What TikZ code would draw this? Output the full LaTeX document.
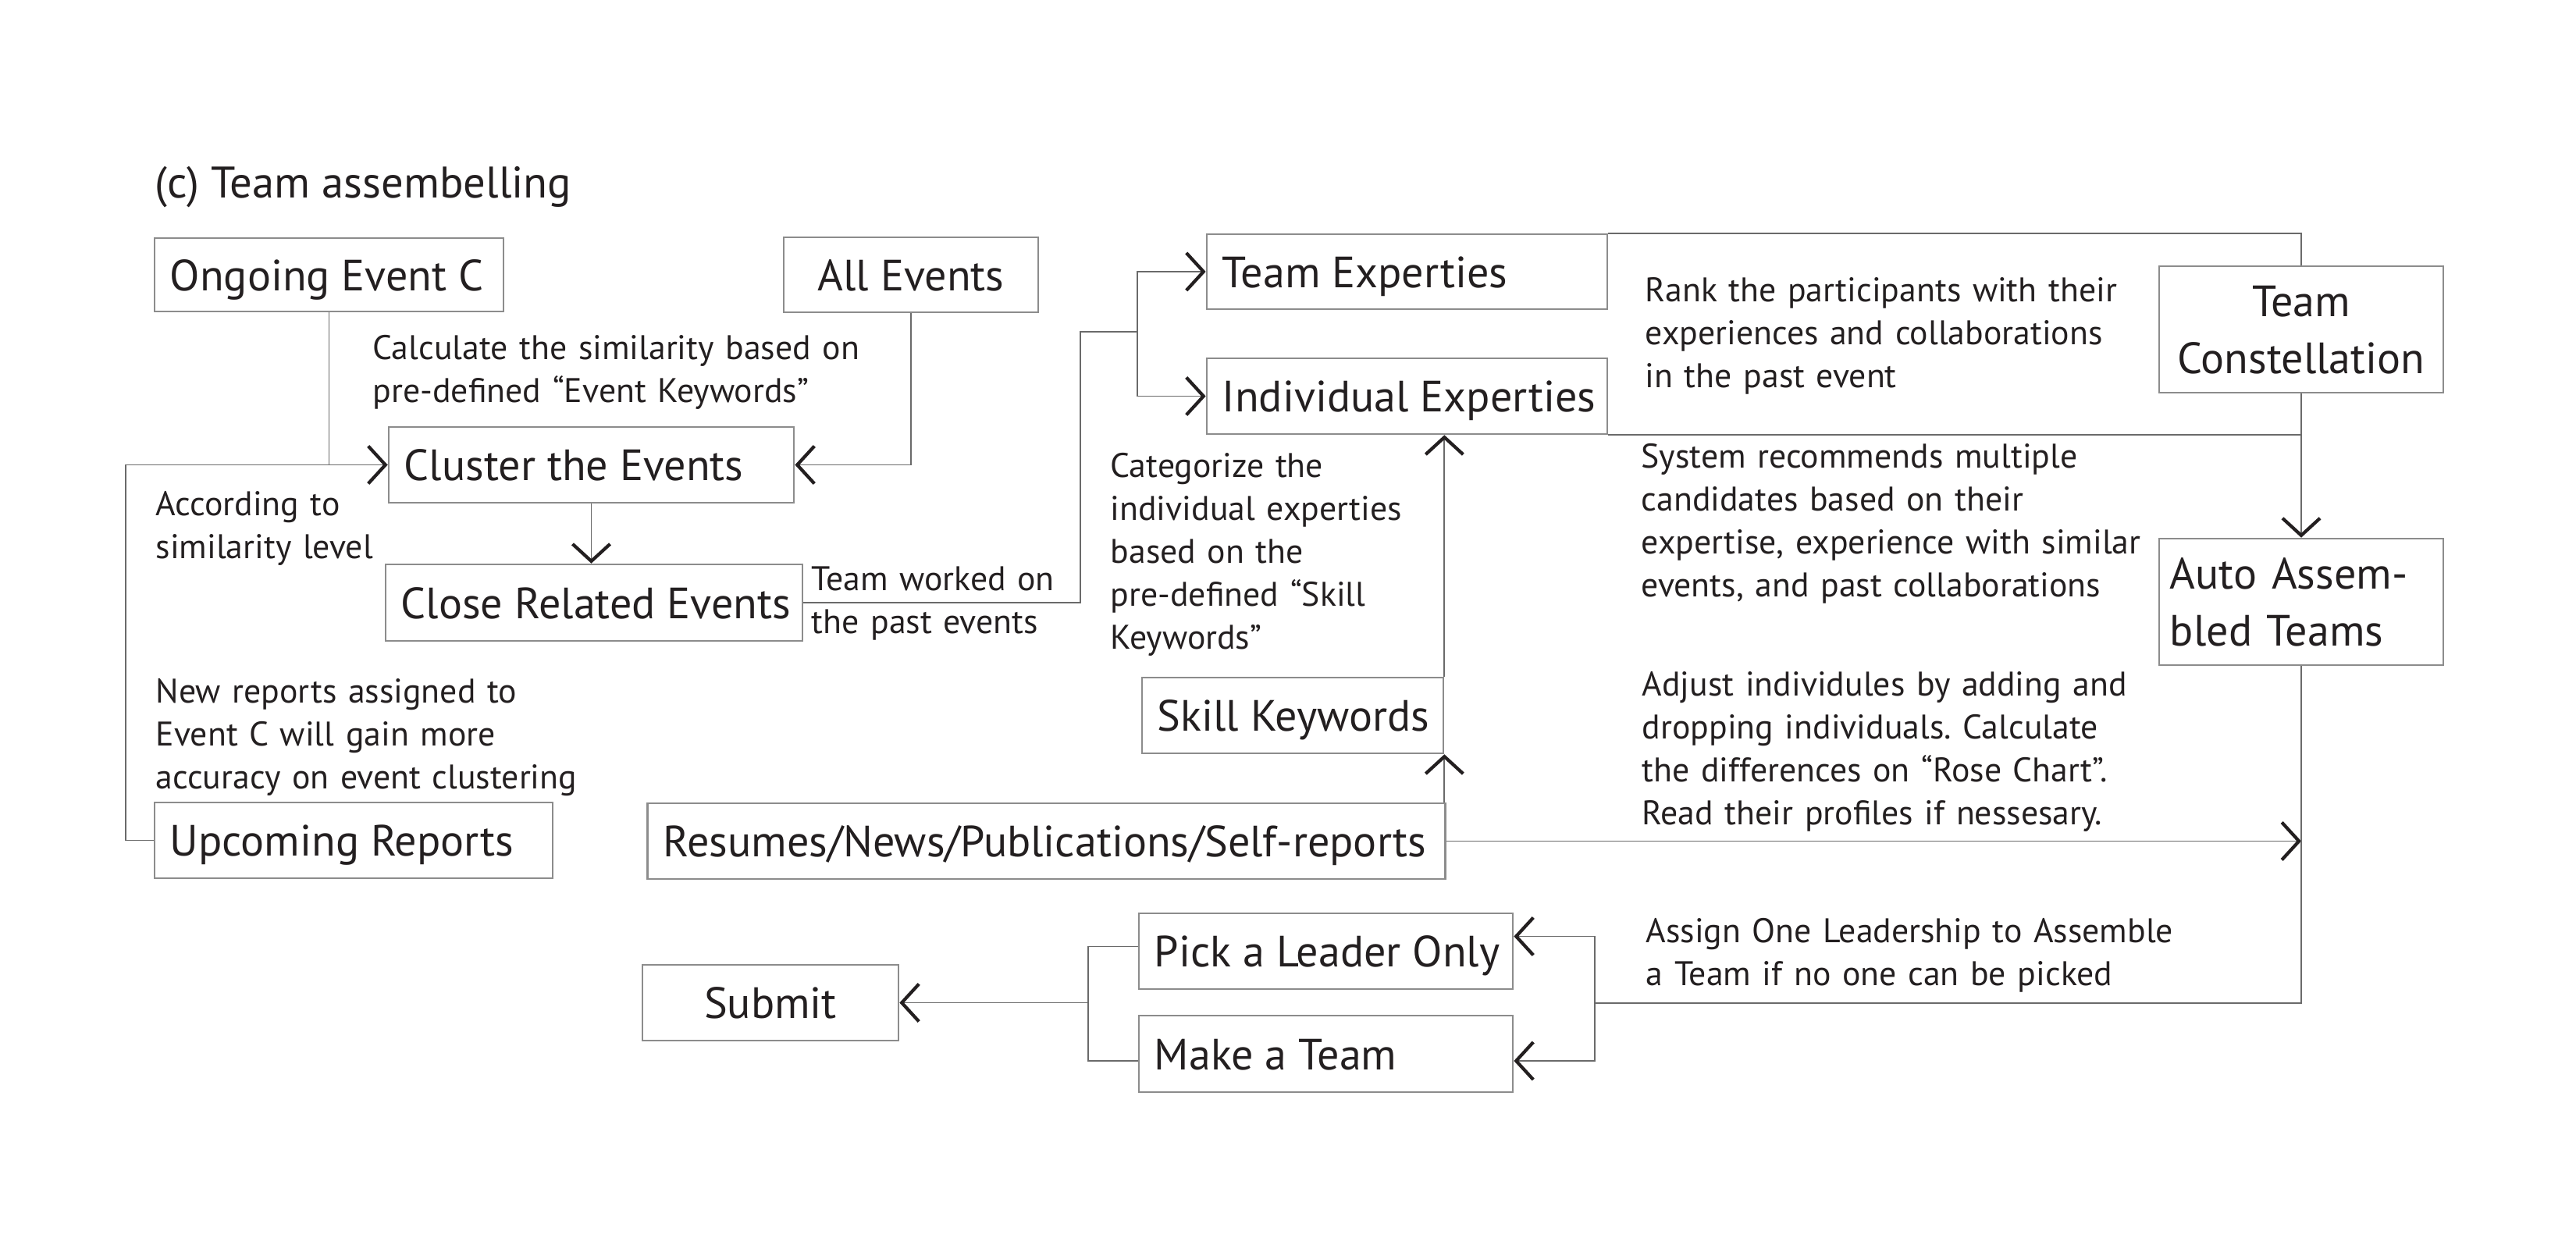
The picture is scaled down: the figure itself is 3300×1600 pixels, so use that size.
\documentclass[tikz,border=0pt]{standalone}
\usepackage{fontspec}
\setmainfont{PT Sans}
\usetikzlibrary{arrows.meta}
\definecolor{boxgray}{HTML}{8C8C8C}
\definecolor{linegray}{HTML}{6A6A6A}
\definecolor{ink}{HTML}{231F20}
\newcommand{\boxfont}{\fontsize{15.95}{20.5}\selectfont}
\newcommand{\notefont}{\fontsize{12.45}{15.7}\selectfont}
\newcommand{\titlefont}{\fontsize{16.1}{19}\selectfont}
\frenchspacing
\begin{document}
\begin{tikzpicture}[x=0.01cm,y=-0.01cm,
 box/.style={draw=boxgray, line width=0.7pt, inner xsep=0.2cm, inner ysep=0pt, text height=0.4cm, text depth=0pt, font=\boxfont, text=ink},
 conn/.style={draw=linegray, line width=0.55pt},
 arr/.style={conn, -{Straight Barb[length=0.22cm, width=0.48cm, line width=1.2pt, color=ink]}},
 note/.style={anchor=base west, inner sep=0pt, align=left, text width=9cm, font=\notefont, text=ink}]
\useasboundingbox (0,0) rectangle (3300,1600);

\node[anchor=base west, inner sep=0pt, font=\titlefont, text=ink] (title) at (198,254) {(c) Team assembelling};

% boxes
\node[box, minimum width=4.47cm, minimum height=0.94cm] (ongoing) at (421.5,352) {\makebox[4.07cm][l]{Ongoing Event C}};
\node[box, minimum width=3.26cm, minimum height=0.96cm] (allev) at (1167,352) {All Events};
\node[box, minimum width=5.19cm, minimum height=0.97cm] (cluster) at (757.5,595.5) {\makebox[4.79cm][l]{Cluster the Events}};
\node[box, minimum width=5.34cm, minimum height=0.98cm] (close) at (761,772) {\makebox[4.94cm][l]{Close Related Events}};
\node[box, minimum width=5.13cm, minimum height=0.96cm] (teamexp) at (1802.5,348) {\makebox[4.73cm][l]{Team Experties}};
\node[box, minimum width=5.13cm, minimum height=0.97cm] (indexp) at (1802.5,507.5) {\makebox[4.73cm][l]{Individual Experties}};
\node[box, minimum width=3.86cm, minimum height=0.97cm] (skill) at (1656,916.5) {\makebox[3.46cm][l]{Skill Keywords}};
\node[box, minimum width=10.21cm, minimum height=0.97cm] (resumes) at (1340.5,1077.5) {\makebox[9.81cm][l]{Resumes/News/Publications/Self-reports}};
\node[box, minimum width=5.10cm, minimum height=0.97cm] (upcoming) at (453,1076.5) {\makebox[4.70cm][l]{Upcoming Reports}};
\node[box, minimum width=3.28cm, minimum height=0.97cm] (submit) at (987,1284.5) {Submit};
\node[box, minimum width=4.79cm, minimum height=0.97cm] (pick) at (1698.5,1218.5) {\makebox[4.39cm][l]{Pick a Leader Only}};
\node[box, minimum width=4.79cm, minimum height=0.98cm] (make) at (1698.5,1350) {\makebox[4.39cm][l]{Make a Team}};
\node[box, minimum width=3.64cm, minimum height=1.62cm, text width=3.24cm, align=center, text depth=0.72cm] (constellation) at (2948,422) {Team\\Constellation};
\node[box, minimum width=3.64cm, minimum height=1.62cm, inner xsep=0.14cm, text width=3.36cm, align=left, text depth=0.72cm] (auto) at (2948,771) {Auto Assem-\\bled Teams};

% notes
\node[note] (n1) at (477,460) {Calculate the similarity based on\\pre-defined “Event Keywords”};
\node[note] (n2) at (199,660) {According to\\similarity level};
\node[note] (n3) at (1039,756) {Team worked on\\the past events};
\node[note] (n4) at (199,900) {New reports assigned to\\Event C will gain more\\accuracy on event clustering};
\node[note] (n5) at (1422,611) {Categorize the\\individual experties\\based on the\\pre-defined “Skill\\Keywords”};
\node[note] (n6) at (2107,386) {Rank the participants with their\\experiences and collaborations\\in the past event};
\node[note] (n7) at (2102,599) {System recommends multiple\\candidates based on their\\expertise, experience with similar\\events, and past collaborations};
\node[note] (n8) at (2103,891) {Adjust individules by adding and\\dropping individuals. Calculate\\the differences on “Rose Chart”.\\Read their profiles if nessesary.};
\node[note] (n9) at (2108,1207) {Assign One Leadership to Assemble\\a Team if no one can be picked};

% connectors
\draw[conn] (upcoming.west) -- ++(-36,0) |- (cluster.west);
\draw[arr] (ongoing.south) |- (cluster.west);
\draw[arr] (allev.south) |- (cluster.east);
\draw[arr] (cluster.south) -- (cluster.south |- close.north);
\coordinate (split) at (1457,425);
\draw[conn] (close.east) -- (1384,772) -- (1384,425) -- (split);
\draw[arr] (split) |- (teamexp.west);
\draw[arr] (split) |- (indexp.west);
\draw[conn] (teamexp.north east) -| (constellation.north);
\draw[conn] (indexp.south east) -- (indexp.south east -| constellation.south);
\draw[arr] (constellation.south) -- (auto.north);
\draw[arr] (skill.north east) -- (skill.north east |- indexp.south);
\draw[arr] (skill.south east |- resumes.north) -- (skill.south east);
\draw[arr] (resumes.east) -- (resumes.east -| auto.south);
\coordinate (split2) at (2043,1285);
\draw[conn] (auto.south) |- (split2);
\draw[arr] (split2) |- ([yshift=0.19cm]pick.east);
\draw[arr] (split2) |- ([yshift=-0.09cm]make.east);
\coordinate (join) at (1394,1284.5);
\draw[conn] ([yshift=0.06cm]pick.west) -| (join) |- ([yshift=-0.09cm]make.west);
\draw[arr] (join) -- (submit.east);
\end{tikzpicture}
\end{document}
